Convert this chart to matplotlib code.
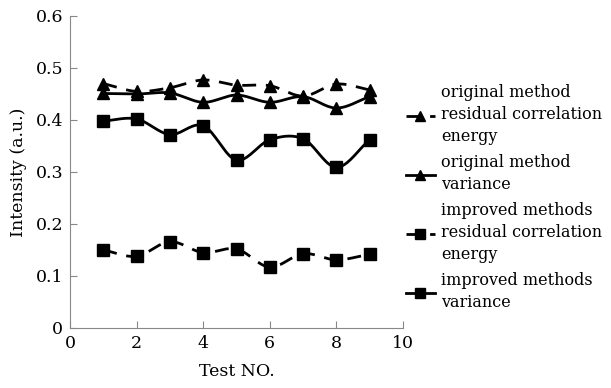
import matplotlib
matplotlib.use("Agg")
import matplotlib.pyplot as plt
import numpy as np

test_no = [1, 2, 3, 4, 5, 6, 7, 8, 9]
orig_residual = [0.470, 0.455, 0.462, 0.477, 0.467, 0.466, 0.446, 0.469, 0.458]
orig_variance = [0.451, 0.450, 0.452, 0.434, 0.448, 0.434, 0.445, 0.423, 0.445]
impr_residual = [0.150, 0.138, 0.166, 0.145, 0.152, 0.117, 0.143, 0.131, 0.142]
impr_variance = [0.398, 0.402, 0.372, 0.389, 0.323, 0.362, 0.364, 0.309, 0.362]

labels = [
    "original method\nresidual correlation\nenergy",
    "original method\nvariance",
    "improved methods\nresidual correlation\nenergy",
    "improved methods\nvariance",
]

plt.rcParams["font.family"] = ["DejaVu Serif"]


def smooth(x, y, n=20):
    """Catmull-Rom path through the points (like Excel's smoothed line)."""
    x = np.asarray(x, float)
    y = np.asarray(y, float)
    px = np.concatenate([[2 * x[0] - x[1]], x, [2 * x[-1] - x[-2]]])
    py = np.concatenate([[2 * y[0] - y[1]], y, [2 * y[-1] - y[-2]]])
    t = np.linspace(0, 1, n)[:, None]
    xs, ys = [], []
    for i in range(1, len(px) - 2):
        for arr, out in ((px, xs), (py, ys)):
            p0, p1, p2, p3 = arr[i - 1:i + 3]
            seg = 0.5 * ((2 * p1) + (-p0 + p2) * t
                         + (2 * p0 - 5 * p1 + 4 * p2 - p3) * t ** 2
                         + (-p0 + 3 * p1 - 3 * p2 + p3) * t ** 3)
            out.append(seg.ravel())
    return np.concatenate(xs), np.concatenate(ys)


fig = plt.figure(figsize=(6.11, 3.88), dpi=100)
ax = fig.add_axes([70 / 611, 1 - 328 / 388, 333 / 611, 312 / 388])

series = [
    (orig_residual, (0, (5, 3.5)), "^", 8),
    (orig_variance, "-", "^", 8),
    (impr_residual, (0, (5, 3.5)), "s", 9),
    (impr_variance, "-", "s", 9),
]
handles = []
for (vals, ls, mk, ms), lab in zip(series, labels):
    sx, sy = smooth(test_no, vals)
    ax.plot(sx, sy, color="black", linestyle=ls, linewidth=2)
    ax.plot(test_no, vals, linestyle="none", marker=mk, markersize=ms,
            color="black")
    h, = ax.plot([], [], color="black", linestyle=ls, linewidth=2,
                 marker=mk, markersize=ms - 1.5)
    handles.append(h)

ax.set_xlim(0, 10)
ax.set_ylim(0, 0.6)
ax.set_xticks([0, 2, 4, 6, 8, 10])
ax.set_yticks([0, 0.1, 0.2, 0.3, 0.4, 0.5, 0.6])
ax.set_yticklabels(["0", "0.1", "0.2", "0.3", "0.4", "0.5", "0.6"])
ax.tick_params(direction="in", length=5, color="#888888", labelsize=12.5,
               pad=5)
for side in ("top", "right"):
    ax.spines[side].set_visible(False)
for side in ("left", "bottom"):
    ax.spines[side].set_color("#888888")
ax.set_xlabel("Test NO.", fontsize=12.5, labelpad=8)
ax.set_ylabel("Intensity (a.u.)", fontsize=12.5, labelpad=6)

leg = ax.legend(handles, labels, loc="upper left",
                bbox_to_anchor=(0.98, 0.813), frameon=False, fontsize=11.5,
                handlelength=1.8, handletextpad=0.4, labelspacing=0.55,
                borderaxespad=0.2)
for t in leg.get_texts():
    t.set_linespacing(1.4)

fig.savefig("out.png", dpi=100)
